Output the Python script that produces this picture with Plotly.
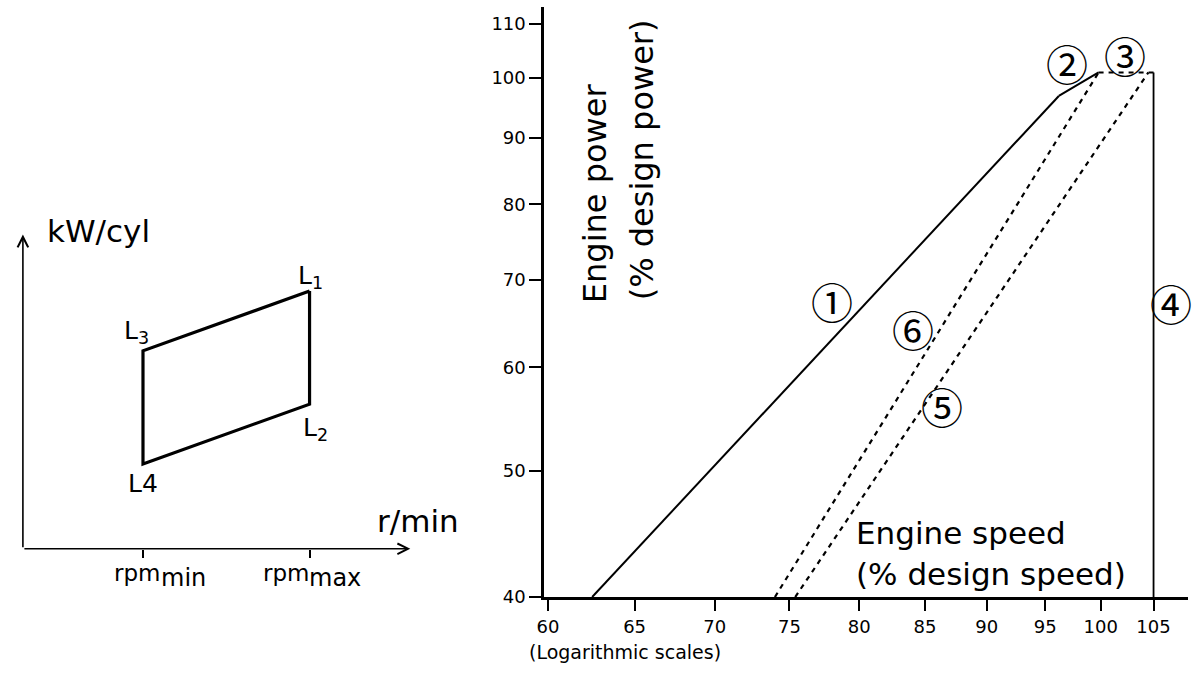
import math
import plotly.graph_objects as go

W, H = 1192, 676

# ---------------- Right chart data (logarithmic scales) ----------------
speed_ticks = [60, 65, 70, 75, 80, 85, 90, 95, 100, 105]
power_ticks = [40, 50, 60, 70, 80, 90, 100, 110]

line1_speed = [62.5, 96.2]
line1_power = [40.0, 96.9]
line2_speed = [96.2, 99.8]
line2_power = [96.9, 101.0]
line3_speed = [99.8, 105.0]
line3_power = [101.0, 101.0]
line4_speed = [105.0, 105.0]
line4_power = [101.0, 40.0]
line5_speed = [75.4, 104.5]
line5_power = [40.0, 101.0]
line6_speed = [74.0, 99.8]
line6_power = [40.0, 101.0]

speed_range = [59.8, 108.4]
power_range = [40.0, 113.4]

# ---------------- Left schematic data ----------------
rpm_min = 3.1
rpm_max = 7.4
layout_rpm = [rpm_max, rpm_max, rpm_min, rpm_min, rpm_max]   # L1, L2, L4, L3, L1
layout_kw = [8.2, 4.6, 2.7, 6.3, 8.2]
schem_range = [0, 10]


def px(x):
    return x / W


def py(y):
    return 1 - y / H


fig = go.Figure()

solid = dict(color="black", width=2)
dashed = dict(color="black", width=2.2, dash="5px,5px")

fig.add_trace(go.Scatter(x=line1_speed, y=line1_power, mode="lines", line=solid, xaxis="x", yaxis="y"))
fig.add_trace(go.Scatter(x=line2_speed, y=line2_power, mode="lines", line=solid, xaxis="x", yaxis="y"))
fig.add_trace(go.Scatter(x=line3_speed, y=line3_power, mode="lines", line=dashed, xaxis="x", yaxis="y"))
fig.add_trace(go.Scatter(x=line4_speed, y=line4_power, mode="lines", line=dict(color="black", width=1.8), xaxis="x", yaxis="y"))
fig.add_trace(go.Scatter(x=line5_speed, y=line5_power, mode="lines", line=dashed, xaxis="x", yaxis="y"))
fig.add_trace(go.Scatter(x=line6_speed, y=line6_power, mode="lines", line=dashed, xaxis="x", yaxis="y"))

# schematic parallelogram
fig.add_trace(go.Scatter(x=layout_rpm, y=layout_kw, mode="lines",
                         line=dict(color="black", width=3.2), xaxis="x2", yaxis="y2"))

tickfont = dict(family="DejaVu Sans", size=18, color="black")

fig.update_layout(
    width=W, height=H, autosize=False,
    margin=dict(l=0, r=0, t=0, b=0),
    paper_bgcolor="white", plot_bgcolor="white",
    showlegend=False,
    xaxis=dict(
        type="log", domain=[px(540), px(1188)],
        range=[math.log10(speed_range[0]), math.log10(speed_range[1])],
        tickvals=speed_ticks, ticktext=[str(v) for v in speed_ticks],
        ticks="outside", ticklen=11, tickwidth=2, tickcolor="black",
        showline=True, linecolor="black", linewidth=3,
        showgrid=False, zeroline=False, tickfont=tickfont, anchor="y",
    ),
    yaxis=dict(
        type="log", domain=[py(606), py(7)],
        range=[math.log10(power_range[0]), math.log10(power_range[1])],
        tickvals=power_ticks, ticktext=[str(v) for v in power_ticks],
        ticks="outside", ticklen=12, tickwidth=2, tickcolor="black",
        showline=True, linecolor="black", linewidth=3,
        showgrid=False, zeroline=False, tickfont=tickfont, anchor="x",
    ),
    xaxis2=dict(
        domain=[px(15), px(405)], range=schem_range,
        tickvals=[rpm_min, rpm_max], showticklabels=False,
        ticks="outside", ticklen=8, tickwidth=1.5, tickcolor="black",
        showline=False, showgrid=False, zeroline=False, anchor="y2",
    ),
    yaxis2=dict(
        domain=[py(557), py(238)], range=schem_range,
        visible=False, anchor="x2",
    ),
)

ann = []

# schematic axes with arrowheads
ann.append(dict(xref="x2", yref="y2", axref="x2", ayref="y2",
                x=schem_range[1], y=0, ax=0, ay=0, text="", showarrow=True,
                arrowhead=5, arrowsize=1.3, arrowwidth=1.6, arrowcolor="black", standoff=0))
ann.append(dict(xref="x2", yref="y2", axref="x2", ayref="y2",
                x=0, y=schem_range[1], ax=0, ay=0, text="", showarrow=True,
                arrowhead=5, arrowsize=1.3, arrowwidth=1.6, arrowcolor="black", standoff=0))


def txt(text, x, y, size, xanchor="center", yanchor="middle", angle=0, family="DejaVu Sans"):
    ann.append(dict(xref="paper", yref="paper", x=px(x), y=py(y), text=text,
                    showarrow=False, xanchor=xanchor, yanchor=yanchor, textangle=angle,
                    font=dict(family=family, size=size, color="black")))


# left schematic labels
txt("kW/cyl", 37, 234, 31, xanchor="left")
txt("r/min", 369, 529, 31, xanchor="left")
txt("rpm", 130, 582, 23)
txt("min", 177, 587, 24)
txt("rpm", 280, 582, 23)
txt("max", 329, 587, 24)
txt("L<sub>1</sub>", 305, 281, 25)
txt("L<sub>3</sub>", 129, 337, 25)
txt("L<sub>2</sub>", 310, 435, 25)
txt("L4", 136, 491, 25)

# right chart labels
txt("Engine power", 591, 196, 32, angle=-90)
txt("(% design power)", 638, 162, 32, angle=-90)
txt("Engine speed", 852, 541, 31, xanchor="left")
txt("(% design speed)", 852, 583, 31, xanchor="left")
txt("(Logarithmic scales)", 523, 662, 19, xanchor="left")

circ = "Noto Sans CJK JP"
txt("\u2460", 830, 305, 42, family=circ)
txt("\u2461", 1066, 63, 42, family=circ)
txt("\u2462", 1125, 55, 42, family=circ)
txt("\u2463", 1171, 307, 42, family=circ)
txt("\u2464", 940, 412, 42, family=circ)
txt("\u2465", 911, 333, 42, family=circ)

fig.update_layout(annotations=ann)

fig.write_html("out.html", config={"displayModeBar": False},
               post_script="document.body.style.margin='0px';")
